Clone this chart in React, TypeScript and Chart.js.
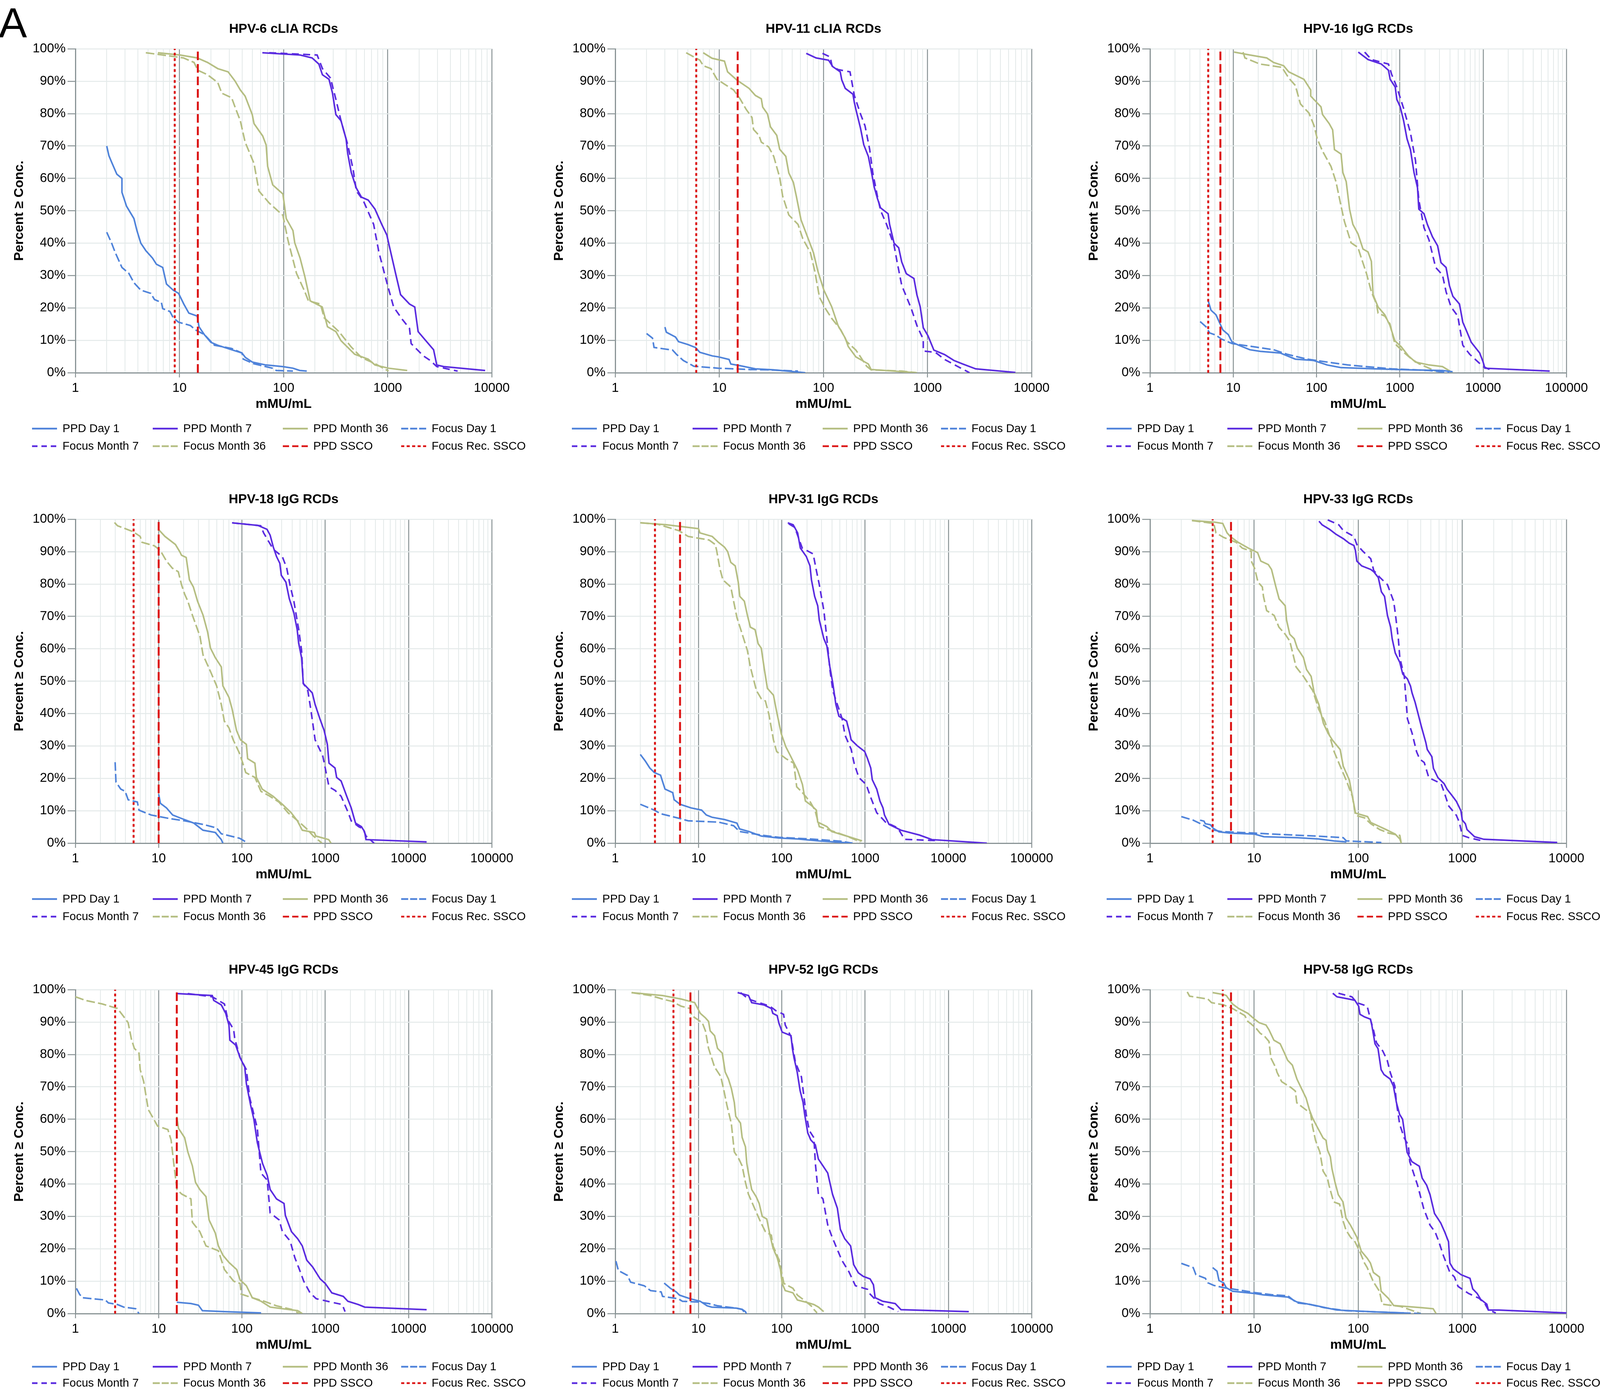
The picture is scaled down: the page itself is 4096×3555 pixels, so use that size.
import React, { useEffect, useRef } from 'react';
import { Chart, registerables } from 'chart.js';
Chart.register(...registerables);

type Pt = [number, number];

// ---------- DATA: [concentration (mMU/mL), percent >= concentration] ----------
// HPV-6 cLIA
const hpv6PpdDay1: Pt[] = [[2.0,70],[2.1,67],[2.23,65],[2.5,61.3],[2.8,60],[2.8,55.7],[3.1,51.4],[3.65,47.6],[3.9,43.9],[4.25,40],[4.75,37.7],[5.5,35.4],[6.0,33.5],[6.9,32.5],[7.5,27.4],[8.7,25.5],[9.8,24.5],[11,21.2],[12.3,18.4],[14.8,17.5],[15.4,14.2],[17.3,11.8],[20,9.4],[23.3,8.5],[31.7,7.1],[39.8,6.1],[43,4.7],[50,3.3],[67.5,2.4],[98,1.9],[123,1.4],[143,0.7],[167,0.5]];
const hpv6PpdM7: Pt[] = [[62.5,98.8],[144,98.1],[188,97.2],[218,95.3],[236,92],[273,90.6],[295,86.3],[318,79.7],[356,77.8],[398,72.2],[414,67.5],[447,61.8],[500,57],[560,54.2],[650,53.3],[755,50.5],[877,45.8],[982,42.5],[1020,40.1],[1190,30.7],[1330,24.1],[1620,21.2],[1820,20.3],[1960,12.7],[2200,10.8],[2760,7.1],[2960,2.4],[3450,1.9],[8630,0.7]];
const hpv6PpdM36: Pt[] = [[6.2,98.8],[10.1,98.1],[14.8,97.2],[18.6,95.8],[23.3,93.9],[29.3,92.9],[34.1,90.1],[38.4,87.3],[42.7,85.4],[50,79.7],[52,76.9],[63,73.1],[68,70.3],[70.3,63.7],[78.6,58],[98.5,55.2],[106,47.6],[123,43.9],[128,40.1],[144,35.4],[160,29.7],[180,22.2],[235,20.3],[264,14.2],[318,12.7],[356,9.9],[482,5.7],[650,4.2],[755,2.4],[1020,1.4],[1540,0.7]];
const hpv6FocusDay1: Pt[] = [[2.0,43.4],[2.23,40],[2.4,37.3],[2.8,32.5],[3.26,30.7],[3.65,27.8],[4.25,25.5],[5.3,24.5],[5.75,22.6],[6.7,21.7],[6.9,19.8],[8.1,18.9],[8.7,17],[9.8,15.6],[12.7,14.6],[14.3,13.2],[17.3,11.8],[21.7,8.5],[31.7,7.5],[39.8,6.1],[41,4.2],[51.5,2.8],[78,1.4],[85,0.7],[123,0.5]];
const hpv6FocusM7: Pt[] = [[72.7,98.8],[210,98.1],[236,93.9],[282,91],[318,84.4],[356,77.8],[414,70.3],[466,62.7],[500,56.1],[580,53.3],[733,45.8],[822,37.3],[982,27.8],[1140,20.3],[1380,16.5],[1620,13.7],[1680,9],[2200,5.2],[2560,3.8],[2960,1.9],[4700,0.5]];
const hpv6FocusM36: Pt[] = [[4.75,98.8],[6.9,98.1],[10.9,97.2],[13.8,95.8],[15.0,93.4],[18.6,92],[23.3,89.6],[25.5,86.3],[31.7,84.9],[34.1,82.1],[38.4,77.8],[42.7,71.2],[52,64.6],[58,56.1],[72.7,52.4],[98.5,48.6],[110,41],[133,30.7],[160,25],[173,22.2],[226,21.2],[245,17],[340,12.7],[445,8],[560,4.7],[755,2.8],[1020,0.5]];

// HPV-11 cLIA
const hpv11PpdDay1: Pt[] = [[3.0,14.1],[3.1,12.5],[3.8,11],[4.05,9.6],[5.0,8.7],[5.9,7.8],[6.5,6.3],[8.55,5.2],[9.8,4.9],[12.4,4.1],[12.9,2.7],[15.7,2.2],[22.2,1.2],[33,0.9],[67,0]];
const hpv11PpdM7: Pt[] = [[68.4,98.6],[85,97.2],[112,96.5],[123,94.5],[145,92.9],[150,90.4],[162,87.8],[192,86],[198,83.5],[205,81.3],[227,75.5],[244,70.4],[270,66.8],[287,62.5],[307,57.4],[330,53.8],[354,50.9],[418,49.1],[432,45.8],[477,40],[528,38.6],[565,34.2],[625,30.6],[740,29.1],[790,24.1],[850,20.4],[910,13.9],[1010,11.4],[1150,7],[1460,5.6],[1790,3.8],[2180,2.7],[2900,1.2],[6980,0.1]];
const hpv11PpdM36: Pt[] = [[7.0,98.8],[8.5,97.1],[11.2,96.2],[12.0,92.9],[14.7,90.4],[19.3,87.8],[22.2,85.6],[25.3,84.6],[26.1,82],[29,79.9],[31,75.9],[35.6,73.3],[38,69],[43.5,66.8],[46.5,61.7],[51.4,58.8],[54.9,54.5],[60.9,47.2],[69.8,42.2],[80.1,37.1],[88.5,31.3],[101,25.5],[120,20.4],[138,14.6],[162,10.7],[173,8.1],[205,4.9],[270,2.7],[287,1.0],[790,0]];
const hpv11FocusDay1: Pt[] = [[2.0,12.1],[2.28,10.7],[2.36,7.8],[3.55,7.0],[3.9,5.6],[4.5,3.8],[5.7,2.0],[9.8,1.4],[19.3,1.0],[29,0.9],[57,0.5]];
const hpv11FocusM7: Pt[] = [[98,98.6],[116,97.5],[121,94.7],[138,93.6],[180,92.9],[198,85.6],[227,79.9],[251,76.2],[278,69],[298,61.7],[330,54.5],[354,50.1],[404,45.8],[477,39.3],[510,34.2],[565,27],[700,19.7],[790,14.6],[910,10.3],[910,6.7],[1190,6.3],[1460,4.1],[2530,0]];
const hpv11FocusM36: Pt[] = [[4.8,98.8],[6.5,96.5],[7,94.8],[8.3,93.9],[9.5,90.6],[11.2,89.1],[13.7,87.3],[15.8,84.6],[18.1,81.3],[20.6,78.8],[21.3,75.1],[24,73.3],[25.3,71.2],[29.8,69.7],[33.3,66.8],[38,60.3],[40.6,54.5],[46.5,48.7],[57,45.8],[63.3,41.4],[74.9,37.1],[82.7,31.3],[91.6,23.3],[105,19.7],[120,16.8],[147,13.2],[168,9.6],[205,7],[227,4.9],[260,2.0],[287,0.9],[570,0.5],[790,0]];

// HPV-16 IgG
const hpv16PpdDay1: Pt[] = [[5.0,22.2],[5.4,19.3],[6.2,17.9],[6.8,15.6],[7.5,13.2],[8.7,11.8],[9.7,9.4],[11.6,8.5],[15.8,7.1],[21.1,6.6],[36.6,6.1],[55.6,4.2],[92,3.8],[134,2.4],[195,1.6],[500,1.2],[1270,0.9],[3250,0.7],[4300,0.3]];
const hpv16PpdM7: Pt[] = [[317,99],[415,96.7],[600,95.3],[730,93.4],[765,90.6],[880,88.2],[920,84.4],[1010,82.1],[1110,77.8],[1220,72.2],[1340,68.9],[1480,61.8],[1630,57.1],[1690,50.5],[1950,49.1],[2140,45.8],[2460,42],[2840,39.2],[3120,34],[3590,32.5],[3940,26.9],[4330,23.6],[5200,21.2],[5700,15.6],[6250,13.2],[7200,9.4],[9100,6.1],[10000,3.3],[10500,1.4],[63000,0.5]];
const hpv16PpdM36: Pt[] = [[10.2,99],[15.8,98.1],[25.2,97.2],[30.5,95.8],[40.2,94.8],[46.3,92.9],[70.5,90.6],[85.1,87.3],[85.1,85.4],[113,82.1],[118,79.7],[142,76.9],[156,75],[164,68.9],[197,67.5],[207,61.8],[227,59],[249,50.5],[273,45.8],[314,42.9],[361,38.2],[415,37.3],[455,34.4],[477,24.1],[548,20.3],[660,17.9],[760,14.6],[870,9.9],[1040,8],[1270,5.2],[1540,3.3],[2240,2.4],[3250,1.9],[4300,0]];
const hpv16FocusDay1: Pt[] = [[4.0,15.8],[4.7,14.2],[5.2,12.3],[6.2,11.6],[7.2,10.4],[9.7,9.0],[15.8,8.2],[30.5,7.1],[44.3,5.7],[77,4.2],[134,3.3],[237,2.4],[800,1.2],[2250,0.7],[3900,0]];
const hpv16FocusM7: Pt[] = [[378,99],[455,96.7],[730,95.3],[800,92],[920,88.2],[1110,81.6],[1340,74.1],[1540,65.6],[1690,53.3],[1950,44.8],[2240,41],[2690,32.5],[3250,30.2],[3590,25],[4120,20.3],[4960,17.5],[5700,8.5],[6900,5.7],[8300,3.8],[10000,1.9],[13300,0.5]];
const hpv16FocusM36: Pt[] = [[13.1,99],[13.8,97.2],[20.9,95.3],[38.4,94.3],[46.3,91],[55.6,88.7],[64,83],[80.9,80.2],[93,76.4],[102,72.2],[118,68.4],[149,63.7],[171,59],[197,51.4],[216,46.7],[260,40.1],[314,38.7],[345,35.4],[397,30.7],[455,25],[524,21.2],[548,18.4],[660,17.5],[760,15.1],[870,9],[1140,6.1],[1390,4.2],[1690,2.8],[2690,0.5]];

// HPV-18 IgG
const hpv18PpdDay1: Pt[] = [[10,15.1],[10.5,12.3],[12.4,10.9],[14.7,8.7],[18.9,7.6],[26.4,6.2],[34,4.0],[47.8,3.3],[56.5,1.1],[59,0]];
const hpv18PpdM7: Pt[] = [[76.2,98.9],[155,98.1],[200,96.9],[218,95.1],[238,91.4],[260,88.5],[285,86.4],[297,82.7],[337,80.6],[370,75.5],[420,71.1],[460,66],[480,61.7],[520,57.3],[545,49.3],[698,46.4],[756,42.8],[860,38.5],[970,34.8],[1060,30.5],[1110,24.7],[1310,23.2],[1370,20.3],[1550,19.2],[1810,14.5],[2050,10.9],[2310,6.2],[2720,5.1],[2960,3.6],[3090,1.1],[16500,0.4]];
const hpv18PpdM36: Pt[] = [[9.9,96.9],[11.9,94.7],[15.9,92.2],[17.9,90],[18.8,88.9],[21.4,88.2],[23.4,81.3],[26.1,79.1],[29.3,74.7],[34.1,70.4],[38.6,65.3],[41.9,60.2],[47.8,57.3],[56.5,54.4],[59,48.6],[69.8,45],[76.2,41.4],[86,34.8],[96,31.9],[113,30.5],[117,26.1],[143,24.7],[149,20.3],[175,16.7],[236,14.5],[306,12],[390,9.4],[463,6.9],[530,4],[740,3.3],[770,2.2],[1100,1.1],[1175,0]];
const hpv18FocusDay1: Pt[] = [[3.0,25],[3.07,18.9],[3.5,16.7],[3.96,16],[4.3,13.4],[5.55,12.7],[5.8,10.2],[8.1,8.7],[13.5,7.6],[20.5,6.9],[34,5.8],[49.6,4.7],[56.5,2.9],[94,1.5],[111,0.4]];
const hpv18FocusM7: Pt[] = [[76,98.9],[168,98],[182,95.8],[238,90.7],[305,88.5],[345,84.9],[377,79.8],[420,74.7],[480,66],[520,59.5],[545,49.3],[617,47.2],[670,41.4],[756,31.9],[935,26.9],[1110,17.4],[1310,16.3],[1550,14.5],[1890,9.4],[2050,6.9],[2520,5.1],[2850,4.4],[3090,2.2],[3860,0]];
const hpv18FocusM36: Pt[] = [[2.95,99],[3.2,98],[4.9,96.2],[6.0,94.7],[6.3,92.9],[8.9,91.8],[10.5,90.3],[12.4,87.1],[14.6,84.9],[17.2,83.8],[18.8,79.8],[20.5,76.9],[22.4,74.7],[25.4,70.4],[31.3,63.9],[34.1,58.1],[41.9,53],[49.6,48.6],[56.5,42.8],[61.4,37.7],[69.8,35.6],[78.5,31.9],[94,27.6],[107,23.2],[111,21.8],[143,20.3],[169,16],[216,14.5],[278,12.7],[357,9.4],[488,6.5],[600,4.4],[720,2.2],[915,0]];

// HPV-31 IgG
const hpv31PpdDay1: Pt[] = [[2.0,27.4],[2.29,25.4],[2.6,23.2],[2.95,21.8],[3.5,21],[3.8,18.1],[3.96,16.7],[4.9,15.6],[5.1,13.4],[6.0,12],[8.1,10.9],[10.9,10.2],[12.4,8.7],[14.5,8],[20.5,7.3],[28.9,6.2],[31.1,4.4],[40.2,3.6],[56.7,2.2],[92,1.6],[155,1.3],[280,0.7],[706,0]];
const hpv31PpdM7: Pt[] = [[118,98.9],[137,98.3],[155,95.8],[167,91.1],[197,88.5],[218,85.6],[227,81.3],[248,76.2],[270,73.3],[282,68.9],[320,63.1],[348,60.9],[378,54.4],[410,49.3],[446,42.8],[485,39.2],[600,37.7],[652,34.1],[680,31.9],[804,30.1],[990,28.3],[1070,26.1],[1170,23.2],[1220,19.6],[1380,16.7],[1510,13],[1640,10.9],[1710,8.7],[1940,5.8],[2700,4],[4500,2.5],[6350,1.1],[29000,0]];
const hpv31PpdM36: Pt[] = [[2.0,98.9],[4.1,98.3],[10,97.1],[10.4,95.8],[14.6,94.7],[17.3,92.9],[20.5,91.4],[22.4,90],[24.4,86.7],[27.6,85.6],[30.0,80.6],[31.3,76.2],[35.5,74.7],[38.6,70.4],[41.9,66.7],[47.8,65.9],[52,61.6],[56.7,60.2],[61.8,53.6],[67.2,47.8],[79.4,45.7],[86.7,40.6],[98.5,33.8],[112,29.7],[128,26.8],[155,22.5],[177,18.1],[192,13],[228,11.6],[260,10.2],[270,6.5],[348,5.1],[397,3.6],[600,2.2],[920,0.7]];
const hpv31FocusDay1: Pt[] = [[2.0,12],[2.95,10.2],[3.5,9.1],[6.0,7.6],[7.5,6.9],[17.3,6.5],[26.4,5.4],[31.1,3.6],[56.7,2.5],[92,1.8],[219,1.3],[510,0.6],[706,0]];
const hpv31FocusM7: Pt[] = [[121,98.6],[143,97.5],[176,91.1],[238,89.3],[260,84.2],[282,79.8],[320,71.8],[348,63.1],[378,53.6],[410,47.1],[446,44.2],[530,38.4],[575,33.3],[680,29],[740,24.6],[840,20.3],[1030,18.1],[1170,14.1],[1380,9.4],[1760,6.5],[2470,4.7],[2980,1.2],[6900,0.8]];
const hpv31FocusM36: Pt[] = [[2.0,98.9],[3.2,98.5],[5.8,96.5],[7.5,94.7],[13.4,93.6],[15.9,92.2],[16.5,90.4],[18,84.9],[19.6,81.3],[24.4,79.1],[26.4,74.7],[28.9,69.7],[34.1,63.9],[38.6,59.5],[41.9,54.4],[49.6,47.1],[56.7,44.6],[63.5,43.9],[69.8,39.9],[79.4,31.9],[86.7,28.3],[112,26.1],[139,24.7],[151,17.4],[177,15.6],[220,12.7],[250,10.2],[282,5.1],[420,3.6],[600,2.2],[880,0.4]];

// HPV-33 IgG
const hpv33PpdDay1: Pt[] = [[3.03,7.1],[3.3,6.8],[3.4,6],[3.8,5.7],[4.05,4.6],[4.6,3.5],[5.9,3.1],[10.1,2.8],[12.4,2.0],[26,1.7],[41.7,1.3],[58.5,0.7],[77,0.4]];
const hpv33PpdM7: Pt[] = [[42,99.4],[45,98.3],[53,96.9],[61,95.4],[72,94],[82,92.6],[91,91.9],[94,90.4],[97,87.1],[108,85.6],[132,84.5],[141,83.8],[156,82],[167,77.6],[179,76.2],[191,70.3],[205,66.7],[212,63.1],[227,58.7],[251,55.8],[268,52.2],[297,50.7],[318,48.5],[329,46.4],[352,43.5],[377,39.8],[403,36.2],[446,31.1],[461,28.9],[510,26.7],[528,23.1],[584,20.2],[668,18.4],[716,16.6],[792,14.8],[877,12.9],[970,10],[1000,7.1],[1070,6],[1110,4.2],[1310,2],[1610,1.2],[8170,0.2]];
const hpv33PpdM36: Pt[] = [[2.53,99.6],[4.2,99.1],[5.0,98.7],[5.5,95.8],[5.9,94.7],[7.0,92.9],[8.8,91.1],[10.8,89.7],[11.6,87.1],[13.7,86],[14.7,84.5],[16.2,79.1],[17.4,75.4],[19.9,73.3],[20.5,68.9],[22,64.5],[24.3,63.1],[26,60.2],[29.8,57.3],[31.9,53.6],[35.3,51.5],[37.8,46.4],[41.8,42.9],[46.3,37],[51.2,34],[56.6,31.8],[67.1,28.9],[71.8,23.8],[82.2,19.5],[88,14.4],[94.2,9.3],[123,8.2],[132,6.4],[185,4.2],[227,2.8],[251,1.3],[259,0]];
const hpv33FocusDay1: Pt[] = [[2.0,8.2],[2.6,7.1],[3.2,5.7],[3.9,4.2],[4.8,3.6],[10.1,3.1],[15.2,2.8],[39,2.2],[71.7,1.7],[77,0.7],[167,0.2]];
const hpv33FocusM7: Pt[] = [[51,99.8],[65,98.3],[72,96.5],[91,94.7],[97,92.2],[111,90.1],[132,87.8],[141,84.2],[162,82],[191,79.8],[219,74.7],[227,71.1],[243,63.1],[251,57.3],[277,51.5],[287,44.9],[297,38.4],[329,34],[364,28.2],[389,26],[431,24.9],[477,20.2],[625,18.4],[668,15.8],[740,11.5],[877,8.6],[937,6.4],[1000,2.4],[1150,1.7],[1610,0.6]];
const hpv33FocusM36: Pt[] = [[2.53,99.6],[4.1,98.7],[4.3,95.8],[5.1,94.4],[6.7,92.9],[7.7,91.1],[9.4,90.1],[9.4,87.1],[10.1,84.9],[10.9,80.6],[12.0,79.1],[12.3,76.2],[13.2,71.8],[15.6,70.3],[17.3,66.7],[19.9,64.5],[22,62.4],[23.5,58.7],[25.3,54.4],[29.8,51.5],[36.6,47.1],[41.8,41.3],[47.7,37.6],[52.9,33.3],[58.8,28.2],[67.1,23.8],[76.6,19.5],[88,14.4],[94.2,8.6],[115,7.8],[132,6],[161,4.2],[196,3.1],[251,2.4],[259,0]];

// HPV-45 IgG
const hpv45PpdDay1: Pt[] = [[16.5,3.5],[24.4,3.1],[30,2.6],[33.5,0.9],[61.6,0.6],[170,0.2]];
const hpv45PpdM7: Pt[] = [[16.9,98.8],[44,98.2],[45.8,96.7],[56.5,95.3],[63.8,92.7],[69.8,89.1],[71.6,84.4],[84,82.9],[95,79],[108,76.1],[113,71],[127,64.4],[139,60],[153,52.8],[163,49.9],[177,46.3],[201,42.7],[218,38.3],[260,35.4],[320,34],[332,30.3],[393,25.3],[467,23.1],[530,20.9],[600,16.5],[706,14.4],[870,10.7],[1000,9.3],[1200,6.4],[1650,5.3],[1870,3.8],[2500,2.8],[2980,2],[16500,1.2]];
const hpv45PpdM36: Pt[] = [[16.5,60.8],[17.3,57.2],[20.5,54.3],[22.4,49.9],[25.4,45.6],[27.7,40.5],[31.2,38.3],[37,36.1],[40.3,28.9],[47.8,24.9],[52.1,20.9],[59.2,18],[69.8,15.8],[86.5,13.6],[95,10.4],[113,8.6],[133,4.9],[170,3.8],[218,2],[467,0.9],[530,0]];
const hpv45FocusDay1: Pt[] = [[1.03,7.8],[1.12,6],[1.21,4.9],[2.29,4.2],[2.49,3.3],[3.2,2.8],[3.8,2.0],[5.3,1.5],[5.8,0]];
const hpv45FocusM7: Pt[] = [[22.3,98.8],[44,97.8],[61.6,95.6],[68,90.6],[79.5,87.7],[82,84.8],[95,79],[113,75.3],[124,66.6],[153,57.2],[169,43.4],[201,41.2],[218,31.1],[280,28.9],[306,25.3],[379,22.4],[431,17.3],[490,13.6],[552,10],[657,6.4],[780,4.6],[1200,3.5],[1600,2.8],[1730,0.6]];
const hpv45FocusM36: Pt[] = [[1.0,97.8],[1.32,96.7],[2.1,95.6],[3.2,94.2],[3.8,91.7],[4.3,89.8],[4.7,84.8],[5.1,81.9],[5.8,80.4],[6.0,75.3],[6.6,71.7],[7.5,63],[8.7,60.1],[9.7,57.9],[12.9,56.8],[14.1,53.6],[15.3,45.6],[16.6,38.3],[18.9,36.9],[24.4,35.4],[25.4,28.2],[31.2,25.3],[37,20.9],[52.1,19.4],[61.6,13.6],[79.5,10],[95,9.3],[98,6],[133,4.9],[185,3.8],[260,2.4],[393,1.3],[490,0]];

// HPV-52 IgG
const hpv52PpdDay1: Pt[] = [[3.87,9.4],[4.6,7.8],[5.4,6.7],[5.9,5.7],[7.9,4.6],[10.5,3.8],[12.7,2.4],[14.4,2.0],[28.2,1.7],[33.4,1.3],[36.6,0.6],[37.5,0]];
const hpv52PpdM7: Pt[] = [[29.5,99.1],[39.8,98.2],[43.5,96],[61,95.3],[75,94.2],[78,92.7],[88,92],[92,89.8],[101,86.9],[129,85.8],[134,81.9],[140,79],[153,74.6],[166,68.8],[180,65.2],[188,61.6],[205,55.8],[223,53.6],[253,52.1],[275,47.7],[312,45.6],[356,43.4],[406,36.9],[465,32.5],[505,26],[570,23.1],[670,20.9],[730,15.1],[830,12.6],[950,11.5],[1150,10.7],[1260,8.9],[1320,4.9],[1630,3.8],[2300,3.1],[2700,1.2],[17600,0.6]];
const hpv52PpdM36: Pt[] = [[1.57,99.1],[3.7,98.2],[6.2,97.1],[7.9,96.4],[9.0,96],[10.5,92.7],[12.1,91.3],[13.2,90.2],[13.8,87.3],[15.6,85.8],[16.9,81.9],[19.3,80.4],[20.9,74.6],[22.9,72.4],[24.8,69.5],[26.9,65.2],[28,60.9],[31.9,58.8],[33.4,54.4],[36.6,51.5],[38,46.4],[39.7,43.5],[43.5,38.3],[49.2,36.1],[53.5,34],[58.2,30],[66,29.2],[71.7,24.5],[78.5,20.2],[88,17.3],[96.3,13.6],[101,9.3],[110,7.1],[136,6.4],[154,4.2],[197,3.5],[243,2.8],[276,2],[318,0.6]];
const hpv52FocusDay1: Pt[] = [[1.02,16.2],[1.09,13.3],[1.40,11.8],[1.53,9.7],[2.23,8.6],[2.65,7.1],[3.56,6.7],[3.7,5.3],[5.7,4.6],[6.4,3.8],[9.7,3.6],[13.2,3.1],[17,2.4],[28.2,1.7],[33.4,1.3],[36.6,0]];
const hpv52FocusM7: Pt[] = [[32,99.1],[39.8,97.1],[72,94.9],[85,93.5],[105,92.4],[110,89.1],[129,85.5],[146,77.5],[172,73.1],[196,61.6],[214,56.5],[243,54.3],[253,46.3],[275,36.9],[312,35.4],[356,27.4],[390,24.5],[445,20.9],[525,16.5],[640,12.9],[765,8.6],[1070,7.5],[1150,6],[1480,3.1],[1940,2],[2500,0.6]];
const hpv52FocusM36: Pt[] = [[1.57,99.1],[2.65,98.2],[3.7,97.1],[4.78,96.4],[6.2,94.9],[7.9,94.2],[8.3,92],[11.1,89.8],[12.1,87.3],[13.2,81.9],[15.6,76.1],[18.5,73.2],[20.2,68.8],[21.9,64.4],[24.8,58.6],[26.9,49.9],[30.6,47.7],[33.4,45.6],[36.6,40.5],[39.7,36.9],[47.1,32.5],[55.8,28.2],[63.5,25.3],[75,24.2],[78.5,20.9],[93,16.5],[106,9.3],[136,7.8],[154,5.7],[184,4.2],[225,2.4],[243,1.3],[265,0.2]];

// HPV-58 IgG
const hpv58PpdDay1: Pt[] = [[4.0,14.2],[4.4,13.1],[4.6,10.2],[5.1,9.5],[5.4,8],[6.2,6.9],[10.1,6.2],[12.2,5.8],[21.1,5.1],[25.7,3.6],[38.7,2.5],[62,1.1],[150,0.5],[275,0.2]];
const hpv58PpdM7: Pt[] = [[57,98.9],[62.5,97.8],[81.5,97.1],[93,96.7],[101,94.9],[104,92.4],[115,91.6],[131,90.9],[135,89.1],[140,86.2],[145,83.3],[155,81.8],[166,75.3],[177,73.8],[203,72.4],[218,70.2],[233,65.1],[250,61.5],[267,60],[277,56.4],[287,52.7],[295,49.8],[328,46.9],[386,45.5],[412,41.8],[455,39.6],[490,36.7],[541,30.9],[620,28],[680,25.1],[737,22.2],[760,15.6],[820,13.8],[975,12],[1185,10.9],[1260,7.6],[1390,6.2],[1500,4.4],[1720,2.9],[1780,1.1],[2250,1.1],[10000,0.2]];
const hpv58PpdM36: Pt[] = [[4.0,99.1],[5.1,98.5],[5.4,98.2],[6.2,95.6],[7.1,94.2],[8.7,92.7],[10.1,90.9],[11.2,89.8],[13,89.1],[13.9,87.6],[15.5,84.4],[17.8,83.3],[19.6,80.4],[21,78.2],[23.3,76.7],[25.8,72.4],[28.5,69.5],[31.6,66.5],[34,62.9],[36.4,60.4],[40.1,57.8],[46,54.2],[49.1,53.5],[50.7,50.5],[54,48.4],[56,44.7],[60,40.4],[64.4,36.7],[71.4,34.5],[76.3,29.5],[84.3,27.3],[97,23.6],[107,19.3],[122,17.1],[131,15.6],[140,12.7],[160,11.3],[166,6.9],[195,4.7],[219,2.5],[413,1.8],[525,1.5],[560,0]];
const hpv58FocusDay1: Pt[] = [[2.0,15.5],[2.6,14.2],[2.76,12],[3.4,10.9],[3.6,9.5],[4.1,8.7],[5.1,8],[6.2,7.6],[10.1,6.5],[15,5.8],[21.1,5.5],[25.7,3.3],[33.7,2.9],[47.5,1.8],[76,0.9],[150,0.5],[400,0]];
const hpv58FocusM7: Pt[] = [[64.6,98.9],[87,97.8],[97,96],[122,94.9],[131,90.9],[140,87.6],[150,83.6],[172,81.1],[190,78.2],[203,74.5],[225,70.2],[233,65.1],[250,58.5],[277,54.2],[303,52],[313,46.9],[372,39.6],[426,32.4],[490,27.3],[550,25.1],[595,22.2],[660,17.8],[760,12.7],[840,11.3],[910,8.4],[1150,6.2],[1455,4.7],[1660,2.9],[1780,1.1],[2100,0.2]];
const hpv58FocusM36: Pt[] = [[2.28,99.3],[2.4,98],[3.6,97.1],[3.9,96],[5.1,95.3],[6.2,94.2],[8.15,92],[8.7,90.2],[9.3,89.5],[10.5,88],[11.4,86.6],[12.7,85.5],[13.9,84],[14.5,78.9],[16.1,76],[16.6,74.5],[18.4,71.6],[22.6,69.8],[24.9,68.7],[25.7,65.1],[29.5,63.6],[34.9,61.8],[36.4,57.8],[38.9,53.5],[42.9,49.8],[46,44],[50.7,41.8],[52.4,39.6],[58,34.5],[66.3,33.8],[71.4,28.7],[76.3,25.8],[84.3,23.6],[93,22.2],[103,19.3],[115,15.6],[122,14.2],[140,9.8],[160,6.9],[170,2.9],[256,2.2],[400,0]];

const panelTitles = ['HPV-6 cLIA RCDs', 'HPV-11 cLIA RCDs', 'HPV-16 IgG RCDs', 'HPV-18 IgG RCDs', 'HPV-31 IgG RCDs', 'HPV-33 IgG RCDs', 'HPV-45 IgG RCDs', 'HPV-52 IgG RCDs', 'HPV-58 IgG RCDs'];
const xAxisMax = [10000, 10000, 100000, 100000, 100000, 10000, 100000, 100000, 10000];
const ppdSscoValues = [15, 15, 7, 10, 6, 6, 16.5, 8, 6];
const focusRecSscoValues = [9, 6, 5, 5, 3, 4, 3, 5, 5];
const seriesNames = ['PPD Day 1', 'PPD Month 7', 'PPD Month 36', 'Focus Day 1', 'Focus Month 7', 'Focus Month 36', 'PPD SSCO', 'Focus Rec. SSCO'];
const yTickValues = [0, 10, 20, 30, 40, 50, 60, 70, 80, 90, 100];

const panelSeries: Pt[][][] = [
  [hpv6PpdDay1, hpv6PpdM7, hpv6PpdM36, hpv6FocusDay1, hpv6FocusM7, hpv6FocusM36],
  [hpv11PpdDay1, hpv11PpdM7, hpv11PpdM36, hpv11FocusDay1, hpv11FocusM7, hpv11FocusM36],
  [hpv16PpdDay1, hpv16PpdM7, hpv16PpdM36, hpv16FocusDay1, hpv16FocusM7, hpv16FocusM36],
  [hpv18PpdDay1, hpv18PpdM7, hpv18PpdM36, hpv18FocusDay1, hpv18FocusM7, hpv18FocusM36],
  [hpv31PpdDay1, hpv31PpdM7, hpv31PpdM36, hpv31FocusDay1, hpv31FocusM7, hpv31FocusM36],
  [hpv33PpdDay1, hpv33PpdM7, hpv33PpdM36, hpv33FocusDay1, hpv33FocusM7, hpv33FocusM36],
  [hpv45PpdDay1, hpv45PpdM7, hpv45PpdM36, hpv45FocusDay1, hpv45FocusM7, hpv45FocusM36],
  [hpv52PpdDay1, hpv52PpdM7, hpv52PpdM36, hpv52FocusDay1, hpv52FocusM7, hpv52FocusM36],
  [hpv58PpdDay1, hpv58PpdM7, hpv58PpdM36, hpv58FocusDay1, hpv58FocusM7, hpv58FocusM36],
];

// ---------- STYLE ----------
const FONT = '"Liberation Sans", Arial, Helvetica, sans-serif';
const BLUE = '#4F83DA';
const PURPLE = '#5A2BE0';
const KHAKI = '#B5BE82';
const RED = '#DC1414';
const seriesColors = [BLUE, PURPLE, KHAKI, BLUE, PURPLE, KHAKI, RED, RED];
const plotDashes: number[][] = [[], [], [], [22, 8], [18, 11], [22, 8], [22, 10], [7, 7]];
const legendDashes: number[][] = [[], [], [], [18, 5], [14, 10], [18, 5], [16, 8], [8, 6]];
const MAJOR = '#8A9496';
const MINOR = '#E3E9E9';
const HGRID = '#E4EAEA';

const CANVAS_W = 1345;
const canvasHeights = [1204, 1204, 1147];
const PLOT_TOP = 125;
const PLOT_H = 829;
const X_AXIS_H = 60;
const colLeft = [0, 1382, 2751];
const rowTop = [0, 1204, 2408];
const legendCols = [-111, 198, 531, 834];
const legendRowOffsets = [[143, 188], [143, 188], [136, 178]];

const isDecade = (v: any) => {
  if (v == null || v <= 0) return false;
  const l = Math.log10(v);
  return Math.abs(l - Math.round(l)) < 1e-9;
};

const textPlugin = {
  id: 'panelText',
  afterDraw(chart: any, _args: any, opts: any) {
    const { ctx, chartArea: a } = chart;
    ctx.save();
    ctx.fillStyle = '#000';
    ctx.textAlign = 'center';
    ctx.textBaseline = 'middle';
    const cx = (a.left + a.right) / 2;
    ctx.font = `bold 33.5px ${FONT}`;
    ctx.fillText(opts.title, cx, a.top - 50);
    ctx.font = `bold 34px ${FONT}`;
    ctx.fillText('mMU/mL', cx, a.bottom + 81);
    ctx.save();
    ctx.translate(a.left - 143, (a.top + a.bottom) / 2);
    ctx.rotate(-Math.PI / 2);
    ctx.fillText('Percent \u2265 Conc.', 0, 0);
    ctx.restore();

    const offs = legendRowOffsets[opts.row];
    ctx.font = `29.5px ${FONT}`;
    ctx.textAlign = 'left';
    for (let i = 0; i < seriesNames.length; i++) {
      const row = Math.floor(i / 4);
      const col = i % 4;
      const x0 = a.left + legendCols[col];
      const y = a.bottom + offs[row];
      ctx.strokeStyle = seriesColors[i];
      ctx.lineWidth = 4.5;
      ctx.setLineDash(legendDashes[i]);
      ctx.beginPath();
      ctx.moveTo(x0, y);
      ctx.lineTo(x0 + 64, y);
      ctx.stroke();
      ctx.setLineDash([]);
      ctx.fillText(seriesNames[i], x0 + 78, y + 1);
    }

    if (opts.showA) {
      ctx.font = `108px ${FONT}`;
      ctx.textAlign = 'left';
      ctx.textBaseline = 'alphabetic';
      ctx.fillText('A', -3, 96);
    }
    ctx.restore();
  },
};

function Panel({ idx }: { idx: number }) {
  const ref = useRef<HTMLCanvasElement>(null);
  const row = Math.floor(idx / 3);
  const canvasH = canvasHeights[row];
  useEffect(() => {
    const canvas = ref.current;
    if (!canvas) return;
    const max = xAxisMax[idx];
    const curves = panelSeries[idx].map((pts, i) => ({
      label: seriesNames[i],
      data: pts.map(([x, y]) => ({ x, y })),
      borderColor: seriesColors[i],
      backgroundColor: seriesColors[i],
      borderWidth: 4,
      borderDash: plotDashes[i],
      pointRadius: 0,
      fill: false,
      tension: 0,
      order: 2,
    }));
    const refLines = [ppdSscoValues[idx], focusRecSscoValues[idx]].map((v, j) => ({
      label: seriesNames[6 + j],
      data: [{ x: v, y: 0 }, { x: v, y: 100 }],
      borderColor: RED,
      backgroundColor: RED,
      borderWidth: 5,
      borderDash: plotDashes[6 + j],
      pointRadius: 0,
      fill: false,
      tension: 0,
      order: 1,
    }));
    const logTicks: number[] = [];
    for (let d = 1; d <= max; d *= 10) {
      for (let m = 1; m <= 9; m++) {
        const v = d * m;
        if (v <= max) logTicks.push(v);
      }
    }
    const padBottom = canvasH - PLOT_TOP - PLOT_H - X_AXIS_H;
    const chart = new Chart(canvas, {
      type: 'line',
      data: { datasets: [...curves, ...refLines] as any },
      options: {
        responsive: false,
        maintainAspectRatio: false,
        animation: false,
        devicePixelRatio: 1,
        events: [],
        layout: { padding: { left: 0, top: PLOT_TOP, right: 86, bottom: padBottom } },
        plugins: {
          legend: { display: false },
          tooltip: { enabled: false },
          title: { display: false },
          panelText: { title: panelTitles[idx], showA: idx === 0, row },
        } as any,
        scales: {
          x: {
            type: 'logarithmic',
            min: 1,
            max,
            afterBuildTicks: (scale: any) => {
              scale.ticks = logTicks.map((v) => ({ value: v }));
            },
            afterFit: (scale: any) => {
              scale.height = X_AXIS_H;
            },
            ticks: {
              autoSkip: false,
              maxRotation: 0,
              minRotation: 0,
              padding: 8,
              color: '#000',
              font: { family: FONT, size: 33 },
              callback: (v: any) => (isDecade(v) ? String(Math.round(v)) : ''),
            },
            grid: {
              color: (c: any) => (isDecade(c.tick && c.tick.value) ? MAJOR : MINOR),
              lineWidth: (c: any) => (isDecade(c.tick && c.tick.value) ? 2.5 : 2),
              tickColor: (c: any) => (isDecade(c.tick && c.tick.value) ? MAJOR : 'rgba(0,0,0,0)'),
              tickLength: 12,
              tickWidth: 2.5,
            },
            border: { display: true, color: MAJOR, width: 3 },
          } as any,
          y: {
            type: 'linear',
            min: 0,
            max: 100,
            afterBuildTicks: (scale: any) => {
              scale.ticks = yTickValues.map((v) => ({ value: v }));
            },
            afterFit: (scale: any) => {
              scale.width = 193;
            },
            ticks: {
              padding: 5,
              color: '#000',
              font: { family: FONT, size: 33 },
              callback: (v: any) => `${v}%`,
            },
            grid: {
              color: HGRID,
              lineWidth: 2.5,
              tickColor: MAJOR,
              tickLength: 20,
              tickWidth: 2.5,
            },
            border: { display: true, color: MAJOR, width: 3 },
          } as any,
        },
      },
      plugins: [textPlugin as any],
    });
    return () => chart.destroy();
  }, [idx, canvasH, row]);

  const left = colLeft[idx % 3];
  const top = rowTop[row];
  return (
    <canvas
      ref={ref}
      width={CANVAS_W}
      height={canvasH}
      style={{ position: 'absolute', left, top, width: CANVAS_W, height: canvasH }}
    />
  );
}

export default function App() {
  return (
    <div
      style={{
        position: 'absolute',
        left: 0,
        top: 0,
        width: 4096,
        height: 3555,
        background: '#fff',
        overflow: 'hidden',
      }}
    >
      {panelTitles.map((_, i) => (
        <Panel key={i} idx={i} />
      ))}
    </div>
  );
}
